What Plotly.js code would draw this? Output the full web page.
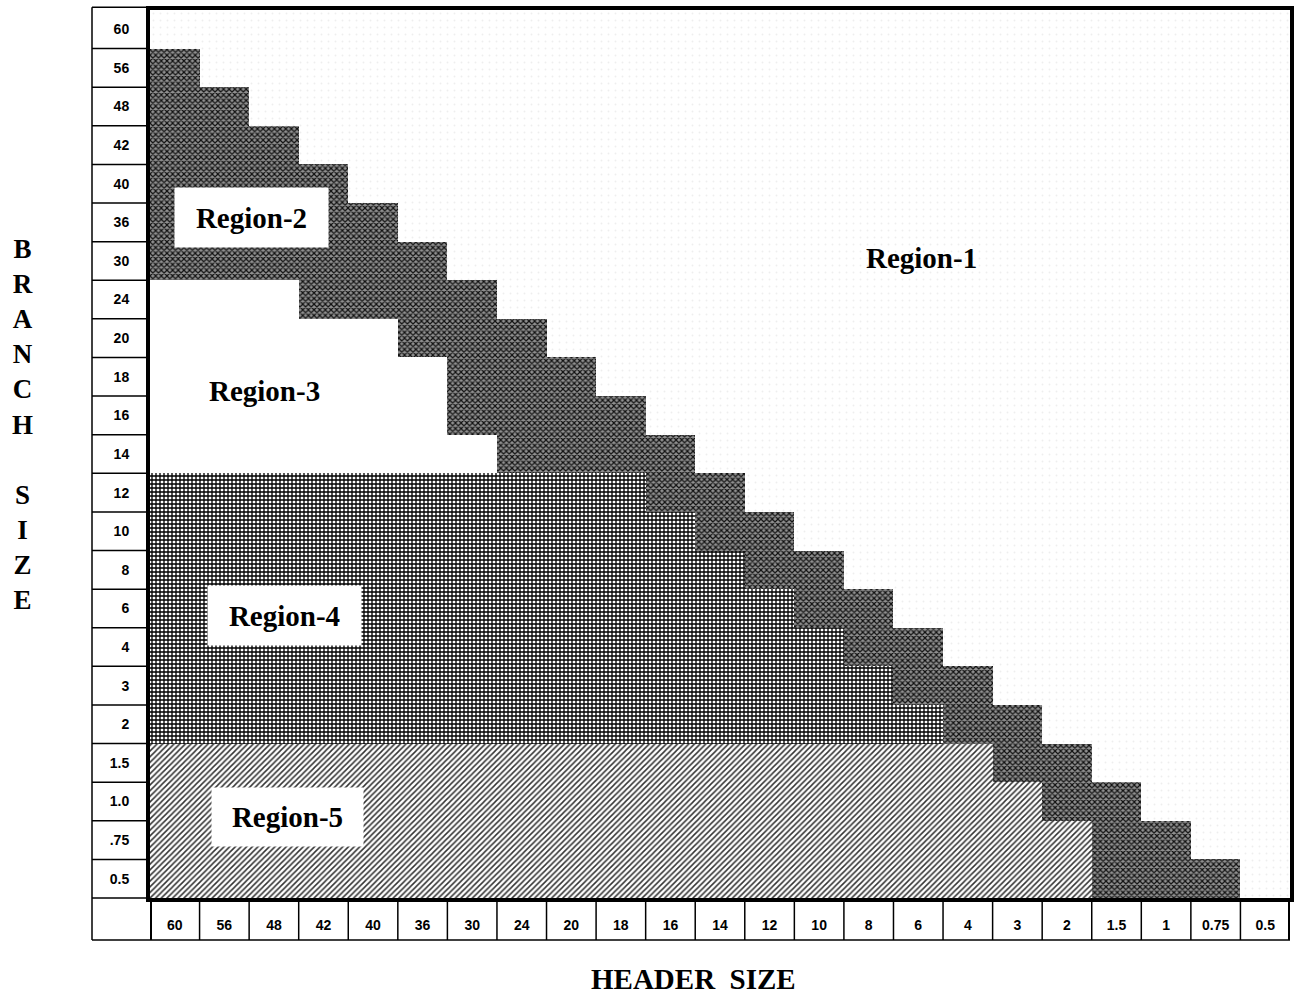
<!DOCTYPE html>
<html><head><meta charset="utf-8">
<script src="https://cdn.plot.ly/plotly-3.0.1.min.js"></script>
<style>html,body{margin:0;padding:0;background:#fff}#chart{width:1296px;height:998px}</style>
</head><body><div id="chart"></div>
<script>
// Columns: header size (left to right)
const headerSizes = ['60','56','48','42','40','36','30','24','20','18','16','14','12','10','8','6','4','3','2','1.5','1','0.75','0.5'];
// Rows: branch size (top to bottom)
const branchSizes = ['60','56','48','42','40','36','30','24','20','18','16','14','12','10','8','6','4','3','2','1.5','1.0','.75','0.5'];
// Region occupying the left-hand part of each branch row, and how many header columns it spans
const leftRegion = ['','','','','','','','Region-3','Region-3','Region-3','Region-3','Region-3',
  'Region-4','Region-4','Region-4','Region-4','Region-4','Region-4','Region-4',
  'Region-5','Region-5','Region-5','Region-5'];
const leftCount = [0,0,0,0,0,0,0,3,5,6,6,7,10,11,12,13,14,15,16,17,18,19,19];
// Number of header columns in Region-2 (the diagonal band) for each branch row
const region2Count = [0,1,2,3,4,5,6,4,3,3,4,4,2,2,2,2,2,2,2,2,2,2,3];
const regionNames = ['Region-1','Region-2','Region-3','Region-4','Region-5'];

const nCols = headerSizes.length;
const nRows = branchSizes.length;

// build segments per region
const seg = {};
regionNames.forEach(r => seg[r] = {y: [], base: [], x: []});
branchSizes.forEach((b, i) => {
  let start = 0;
  if (leftCount[i] > 0) {
    seg[leftRegion[i]].y.push(b); seg[leftRegion[i]].base.push(0); seg[leftRegion[i]].x.push(leftCount[i]);
    start = leftCount[i];
  }
  if (region2Count[i] > 0) {
    seg['Region-2'].y.push(b); seg['Region-2'].base.push(start); seg['Region-2'].x.push(region2Count[i]);
    start += region2Count[i];
  }
  if (start < nCols) {
    seg['Region-1'].y.push(b); seg['Region-1'].base.push(start); seg['Region-1'].x.push(nCols - start);
  }
});

const styles = {
  'Region-1': {color: '#ffffff', pattern: {shape: '.', fgcolor: '#eeeeee', bgcolor: '#ffffff', size: 7, solidity: 0.05}},
  'Region-2': {color: '#5a5a5a', pattern: {shape: 'x', fgcolor: '#111111', bgcolor: '#909090', size: 4, solidity: 0.5}},
  'Region-3': {color: '#ffffff', pattern: {shape: ''}},
  'Region-4': {color: '#555555', pattern: {shape: '+', fgcolor: '#000000', bgcolor: '#ffffff', size: 4, solidity: 0.55}},
  'Region-5': {color: '#a0a0a0', pattern: {shape: '/', fgcolor: '#333333', bgcolor: '#ffffff', size: 4, solidity: 0.38}}
};

const traces = regionNames.map(r => ({
  type: 'bar', orientation: 'h', name: r,
  y: seg[r].y, base: seg[r].base, x: seg[r].x,
  marker: {color: styles[r].color, line: {width: 0}, pattern: Object.assign({fillmode: 'replace'}, styles[r].pattern)},
  hoverinfo: 'name'
}));

// layout helpers (pixel geometry)
const W = 1296, H = 998, mL = 150, mR = 6, mT = 10, mB = 100;
const pw = W - mL - mR, ph = H - mT - mB;
const stripLeft = -(mL - 92) / pw;      // paper x of the left edge of the branch-label strip
const stripBottom = -(940 - (H - mB)) / ph; // paper y of the bottom of the header-label strip
const thin = {color: '#000', width: 1.5};
const thick = {color: '#000', width: 4};

const shapes = [];
for (let k = 0; k <= nCols; k++) {
  shapes.push({type: 'line', xref: 'x', yref: 'paper', x0: k, x1: k, y0: 0, y1: stripBottom,
    line: (k === 0 || k === nCols) ? thick : thin});
}
shapes.push({type: 'line', xref: 'paper', yref: 'paper', x0: stripLeft, x1: 1, y0: stripBottom, y1: stripBottom, line: thin});
shapes.push({type: 'line', xref: 'paper', yref: 'paper', x0: stripLeft, x1: stripLeft, y0: stripBottom, y1: 1.003, line: thin});
shapes.push({type: 'line', xref: 'paper', yref: 'paper', x0: stripLeft, x1: 0, y0: 1.003, y1: 1.003, line: thin});
shapes.push({type: 'line', xref: 'paper', yref: 'paper', x0: stripLeft, x1: 0, y0: 0, y1: 0, line: thin});
for (let k = 1; k < nRows; k++) {
  shapes.push({type: 'line', xref: 'paper', yref: 'y', x0: stripLeft, x1: 0, y0: k - 0.5, y1: k - 0.5, line: thin});
}

const serif = 'Liberation Serif, Times New Roman, serif';
const labelFont = {family: serif, size: 29, weight: 'bold', color: '#000'};
const tickFont = {family: 'Liberation Sans, Arial, sans-serif', size: 14, weight: 'bold', color: '#000'};

const annotations = [
  {text: 'Region-1', x: 15.56, y: 5.92, xref: 'x', yref: 'y', showarrow: false, font: labelFont},
  {text: 'Region-2', x: 2.05, y: 4.87, xref: 'x', yref: 'y', showarrow: false, font: labelFont, bgcolor: '#fff', width: 149, height: 55, borderpad: 2},
  {text: 'Region-3', x: 2.32, y: 9.37, xref: 'x', yref: 'y', showarrow: false, font: labelFont},
  {text: 'Region-4', x: 2.71, y: 15.18, xref: 'x', yref: 'y', showarrow: false, font: labelFont, bgcolor: '#fff', width: 149, height: 55, borderpad: 2},
  {text: 'Region-5', x: 2.77, y: 20.40, xref: 'x', yref: 'y', showarrow: false, font: labelFont, bgcolor: '#fff', width: 147, height: 54, borderpad: 2},
  {text: 'B<br>R<br>A<br>N<br>C<br>H<br> <br>S<br>I<br>Z<br>E', x: -(mL - 22) / pw, y: (H - mB - 425) / ph,
   xref: 'paper', yref: 'paper', xanchor: 'center', yanchor: 'middle', showarrow: false, align: 'center',
   font: {family: serif, size: 27, weight: 'bold', color: '#000'}},
  {text: 'HEADER\u00a0\u00a0SIZE', x: (693 - mL) / pw, y: -(979 - (H - mB)) / ph,
   xref: 'paper', yref: 'paper', xanchor: 'center', yanchor: 'middle', showarrow: false,
   font: {family: serif, size: 29, weight: 'bold', color: '#000'}}
];

const layout = {
  width: W, height: H,
  margin: {l: mL, r: mR, t: mT, b: mB, pad: 0},
  paper_bgcolor: '#fff', plot_bgcolor: '#fff',
  showlegend: false, barmode: 'overlay', bargap: 0,
  xaxis: {range: [0, nCols], tickvals: headerSizes.map((_, i) => i + 0.5), ticktext: headerSizes,
    ticks: '', showgrid: false, zeroline: false, showline: true, mirror: true, linewidth: 4, linecolor: '#000',
    tickfont: tickFont, ticklabelstandoff: 11, fixedrange: true},
  yaxis: {type: 'category', categoryorder: 'array', categoryarray: branchSizes, range: [nRows - 0.5, -0.5],
    ticks: '', showgrid: false, zeroline: false, showline: true, mirror: true, linewidth: 4, linecolor: '#000',
    tickfont: tickFont, ticklabelstandoff: 14, fixedrange: true},
  shapes: shapes,
  annotations: annotations
};

Plotly.newPlot('chart', traces, layout, {displayModeBar: false, staticPlot: true});
</script>
</body></html>
